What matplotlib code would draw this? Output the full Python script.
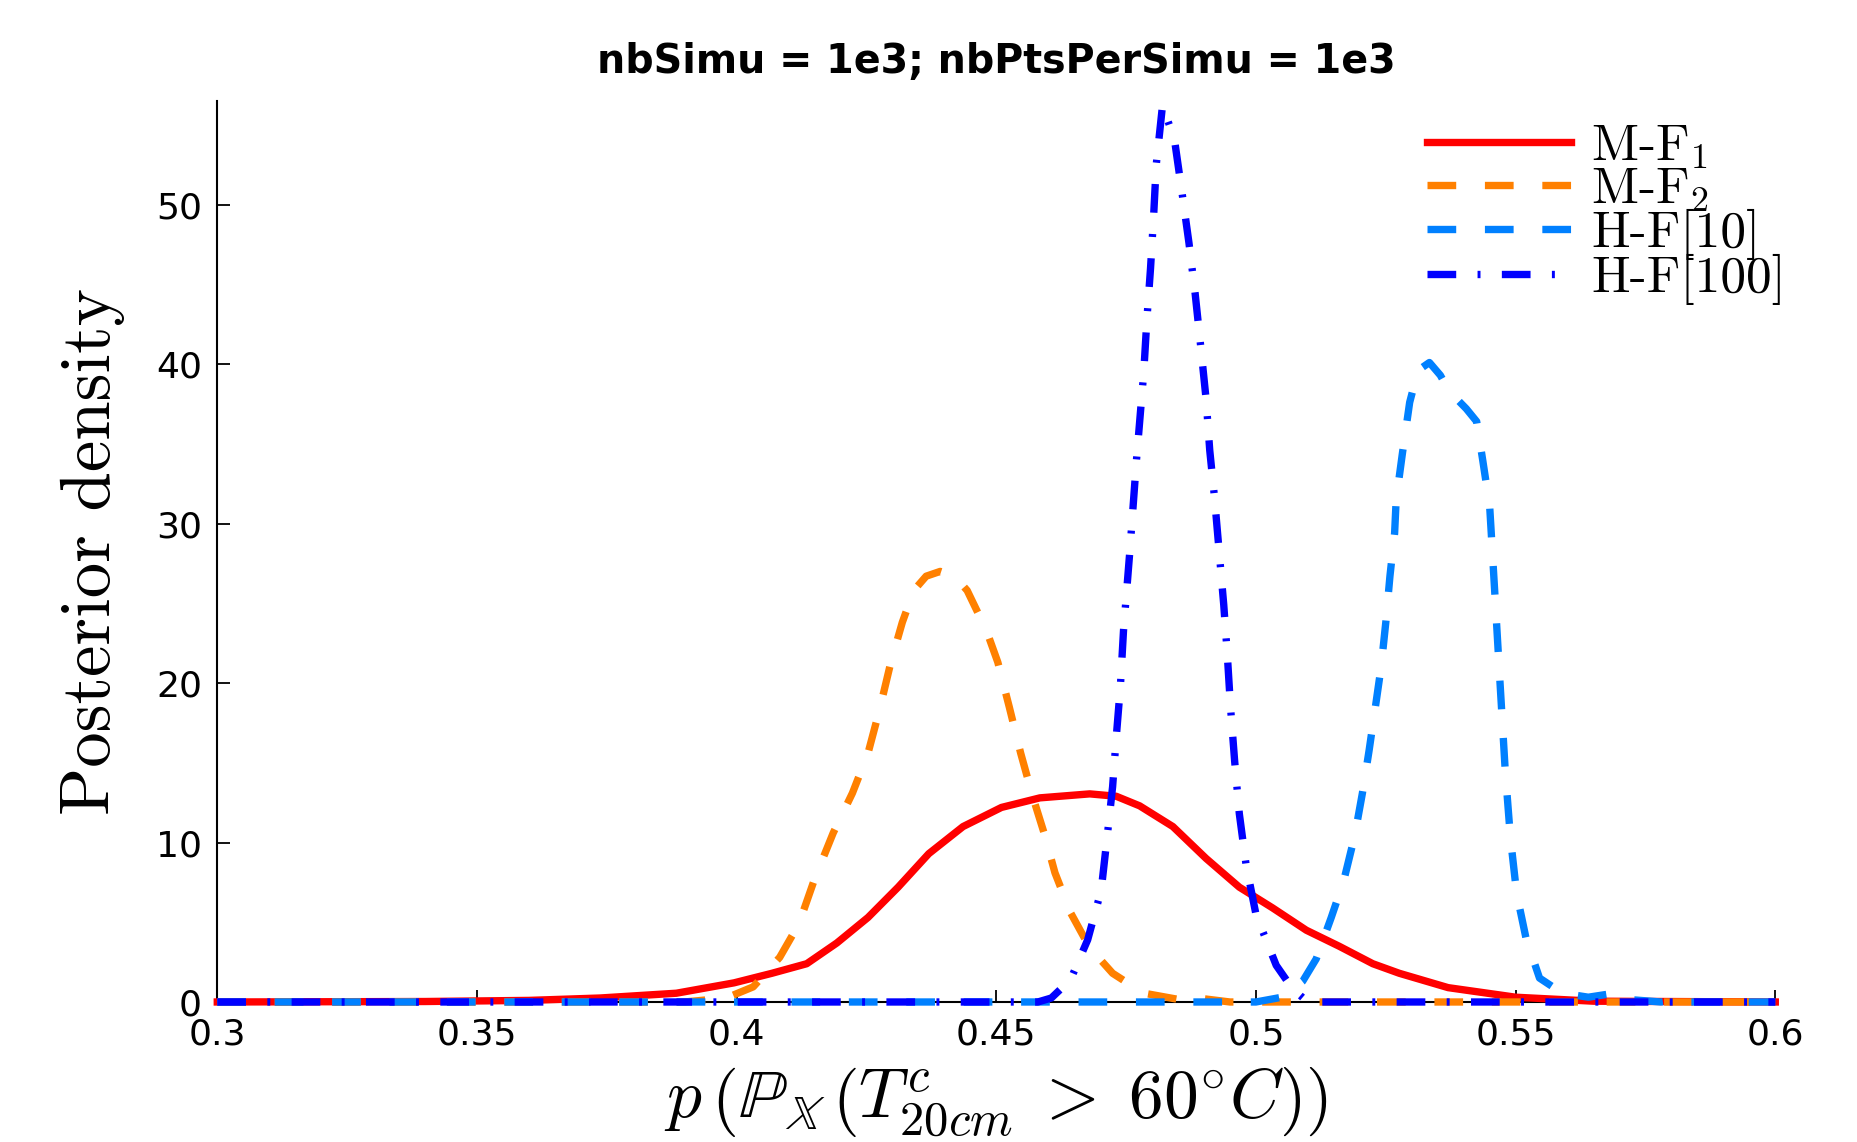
import matplotlib.pyplot as plt

plt.rcParams['mathtext.fontset'] = 'cm'
plt.rcParams['font.family'] = ['DejaVu Sans']

# M-F1 (solid red)
p_mf1 = [0.30, 0.34, 0.36, 0.3737, 0.3884, 0.3995, 0.4068, 0.4135, 0.4193, 0.4253,
         0.4311, 0.437, 0.4436, 0.451, 0.4584, 0.468, 0.4731, 0.4776, 0.484, 0.4904,
         0.4968, 0.5032, 0.5097, 0.516, 0.5225, 0.5276, 0.537, 0.55, 0.565, 0.6]
d_mf1 = [0, 0.03, 0.1, 0.25, 0.55, 1.2, 1.8, 2.4, 3.7, 5.3,
         7.2, 9.3, 11.0, 12.2, 12.8, 13.05, 12.9, 12.3, 11.0, 9.0,
         7.2, 5.9, 4.5, 3.5, 2.4, 1.8, 0.9, 0.3, 0.05, 0]

# M-F2 (dashed orange)
p_mf2 = [0.30, 0.39, 0.398, 0.4032, 0.4083, 0.412, 0.415, 0.4186, 0.4223, 0.4253,
         0.4275, 0.4297, 0.4319, 0.4341, 0.4365, 0.4392, 0.442, 0.4444, 0.4481, 0.4503,
         0.4525, 0.4547, 0.457, 0.4592, 0.4613, 0.4643, 0.468, 0.4724, 0.4783, 0.4856,
         0.49, 0.495, 0.6]
d_mf2 = [0, 0, 0.25, 0.95, 2.8, 4.9, 7.7, 10.6, 13.1, 15.6,
         18.3, 21.3, 23.8, 25.8, 26.7, 27.0, 26.7, 25.8, 23.3, 21.3,
         18.5, 15.6, 12.9, 10.6, 8.1, 5.6, 3.4, 1.8, 0.56, 0.13,
         0.2, 0, 0]

# H-F[10] (dashed light blue)
p_hf10 = [0.30, 0.50, 0.505, 0.509, 0.5116, 0.5145, 0.5169, 0.519, 0.5205, 0.5218,
          0.523, 0.5241, 0.525, 0.5258, 0.5267, 0.527, 0.5282, 0.5296, 0.5312, 0.5334,
          0.5355, 0.5372, 0.5405, 0.5425, 0.5437, 0.545, 0.546, 0.547, 0.548, 0.549,
          0.5502, 0.552, 0.5546, 0.559, 0.564, 0.568, 0.572, 0.578, 0.58, 0.583, 0.6]
d_hf10 = [0, 0, 0.3, 1.3, 2.7, 5.3, 7.6, 10.4, 13.1, 15.8,
          18.5, 21.0, 23.8, 26.7, 29.4, 31.5, 34.4, 37.6, 39.6, 40.1,
          39.3, 38.3, 37.2, 36.4, 33.9, 31.1, 25.6, 20.0, 14.5, 10.3,
          6.8, 4.0, 1.5, 0.55, 0.3, 0.5, 0.15, 0.0, 0.1, 0, 0]

# H-F[100] (dash-dot blue)
p_hf100 = [0.30, 0.458, 0.4606, 0.4643, 0.4676, 0.4702, 0.4713, 0.4724, 0.4731, 0.4739,
           0.4745, 0.4757, 0.477, 0.4784, 0.479, 0.4797, 0.4803, 0.4808, 0.482, 0.4843,
           0.4857, 0.4871, 0.4883, 0.4894, 0.4904, 0.4911, 0.492, 0.4929, 0.4938, 0.4945,
           0.4951, 0.4959, 0.4968, 0.4981, 0.5, 0.5039, 0.5071, 0.51, 0.6]
d_hf100 = [0, 0, 0.25, 1.4, 3.9, 7.0, 10.2, 13.5, 16.6, 19.8,
           23.3, 28.2, 34.0, 39.5, 42.8, 46.0, 49.3, 52.5, 56.2, 54.1,
           50.9, 47.6, 44.4, 41.0, 37.8, 34.6, 31.7, 28.3, 24.9, 21.7,
           18.5, 15.1, 11.8, 8.6, 5.5, 2.3, 0.8, 0, 0]

labels = ['M-F$_1$', 'M-F$_2$', 'H-F[10]', 'H-F[100]']
x_ticks = [0.3, 0.35, 0.4, 0.45, 0.5, 0.55, 0.6]
x_ticklabels = ['0.3', '0.35', '0.4', '0.45', '0.5', '0.55', '0.6']
y_ticks = [0, 10, 20, 30, 40, 50]

fig = plt.figure(figsize=(18.57, 11.42), dpi=100)
ax = fig.add_axes([0.117, 0.1226, 0.839, 0.789])

lw = 5.3
ax.plot(p_mf1, d_mf1, color='#FF0000', lw=lw, label=labels[0], zorder=3, clip_on=False)
ax.plot(p_mf2, d_mf2, color='#FF8000', lw=lw, dashes=(3.9, 3.9), label=labels[1],
        zorder=3, clip_on=False)
ax.plot(p_hf10, d_hf10, color='#0080FF', lw=lw, dashes=(3.9, 3.9), label=labels[2],
        zorder=3, clip_on=False)
ax.plot(p_hf100, d_hf100, color='#0000FF', lw=lw, dashes=(3.9, 2.9, 0.4, 2.9),
        label=labels[3], zorder=3, clip_on=False)

ax.set_xlim(0.3, 0.6)
ax.set_ylim(0, 56.5)
ax.set_xticks(x_ticks)
ax.set_xticklabels(x_ticklabels)
ax.set_yticks(y_ticks)

for s in ['top', 'right']:
    ax.spines[s].set_visible(False)
for s in ['left', 'bottom']:
    ax.spines[s].set_linewidth(1.5)
    ax.spines[s].set_zorder(2)

ax.tick_params(direction='in', length=9, width=1.3, labelsize=26, pad=11)

ax.set_title('nbSimu = 1e3; nbPtsPerSimu = 1e3', fontsize=28.5, fontweight='bold', pad=20)
ax.set_ylabel('Posterior density', family='cmr10', fontsize=51, labelpad=22)
ax.set_xlabel(r'$p\,\left(\mathbb{P}_{\mathbb{X}}\,\left(T^{c}_{20cm}\;>\;60^{\circ}C\right)\right)$',
              fontsize=50, labelpad=10)

ax.legend(loc='upper right', bbox_to_anchor=(1.02, 0.998), frameon=False,
          prop={'family': 'cmr10', 'size': 37}, handlelength=2.8, handletextpad=0.4,
          labelspacing=-0.1, borderaxespad=0.0)

fig.savefig('out.png', dpi=100)
